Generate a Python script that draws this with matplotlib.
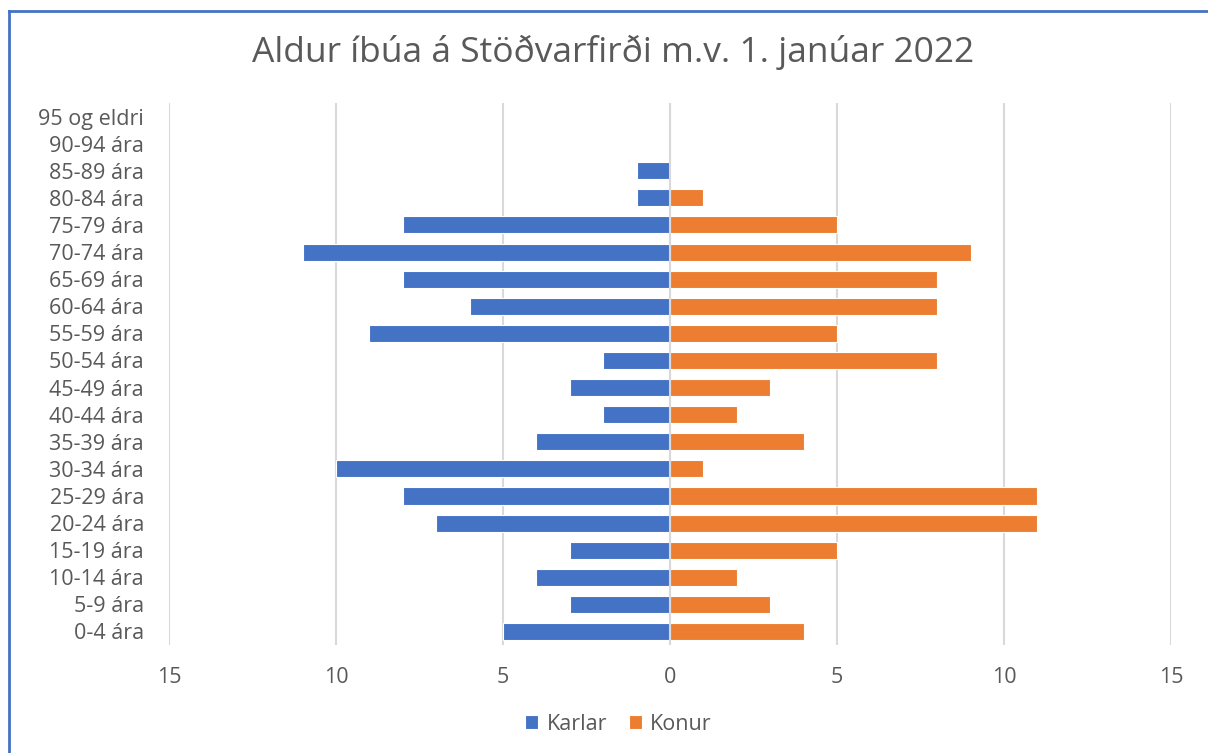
import matplotlib
matplotlib.use("Agg")
import matplotlib.pyplot as plt
from matplotlib.lines import Line2D
from matplotlib.ticker import FuncFormatter, MultipleLocator

plt.rcParams["font.family"] = ["Open Sans", "DejaVu Sans"]

# age groups from youngest to oldest
age_groups = [
    "0-4 ára", "5-9 ára", "10-14 ára", "15-19 ára", "20-24 ára",
    "25-29 ára", "30-34 ára", "35-39 ára", "40-44 ára", "45-49 ára",
    "50-54 ára", "55-59 ára", "60-64 ára", "65-69 ára", "70-74 ára",
    "75-79 ára", "80-84 ára", "85-89 ára", "90-94 ára", "95 og eldri",
]
karlar = [5, 3, 4, 3, 7, 8, 10, 4, 2, 3, 2, 9, 6, 8, 11, 8, 1, 1, 0, 0]
konur = [4, 3, 2, 5, 11, 11, 1, 4, 2, 3, 8, 5, 8, 8, 9, 5, 1, 0, 0, 0]

BLUE = "#4472C4"
ORANGE = "#ED7D31"
TEXT = "#595959"

fig = plt.figure(figsize=(12.08, 7.53), dpi=100)
ax = fig.add_axes([0.1399, 0.1434, 0.8295, 0.7198])

pos = range(len(age_groups))
ax.barh(pos, [-v for v in karlar], height=0.63, color=BLUE,
        edgecolor="white", linewidth=0.8, label="Karlar", zorder=3)
ax.barh(pos, konur, height=0.63, color=ORANGE,
        edgecolor="white", linewidth=0.8, label="Konur", zorder=3)

ax.set_xlim(-15, 15)
ax.set_ylim(-0.5, len(age_groups) - 0.5)
ax.xaxis.set_major_locator(MultipleLocator(5))
ax.xaxis.set_major_formatter(FuncFormatter(lambda v, p: f"{abs(v):.0f}"))
ax.set_yticks(list(pos))
ax.set_yticklabels(age_groups)

ax.grid(axis="x", color="#d9d9d9", linewidth=1.5, zorder=0)
ax.axvline(0, color="#d9d9d9", linewidth=1.5, zorder=4)
for s in ax.spines.values():
    s.set_visible(False)
ax.tick_params(axis="both", length=0, labelcolor=TEXT, labelsize=15.5)
ax.tick_params(axis="x", pad=16)
ax.tick_params(axis="y", pad=18)

fig.text(0.5075, 0.931, "Aldur íbúa á Stöðvarfirði m.v. 1. janúar 2022",
         ha="center", va="center", fontsize=25.5, color=TEXT)

leg = fig.legend(loc="center", bbox_to_anchor=(0.512, 0.038), ncol=2,
                 frameon=False, fontsize=15.5, handlelength=0.6,
                 handleheight=0.6, handletextpad=0.4, columnspacing=1.0)
for t in leg.get_texts():
    t.set_color(TEXT)

# outer border (only the top and left edges are visible in the crop)
fig.add_artist(Line2D([9 / 1208, 9 / 1208], [0, 1 - 11 / 753],
                      transform=fig.transFigure, color=BLUE, linewidth=2))
fig.add_artist(Line2D([9 / 1208, 1], [1 - 11 / 753, 1 - 11 / 753],
                      transform=fig.transFigure, color=BLUE, linewidth=2))

fig.savefig("out.png", dpi=100, facecolor="white")
